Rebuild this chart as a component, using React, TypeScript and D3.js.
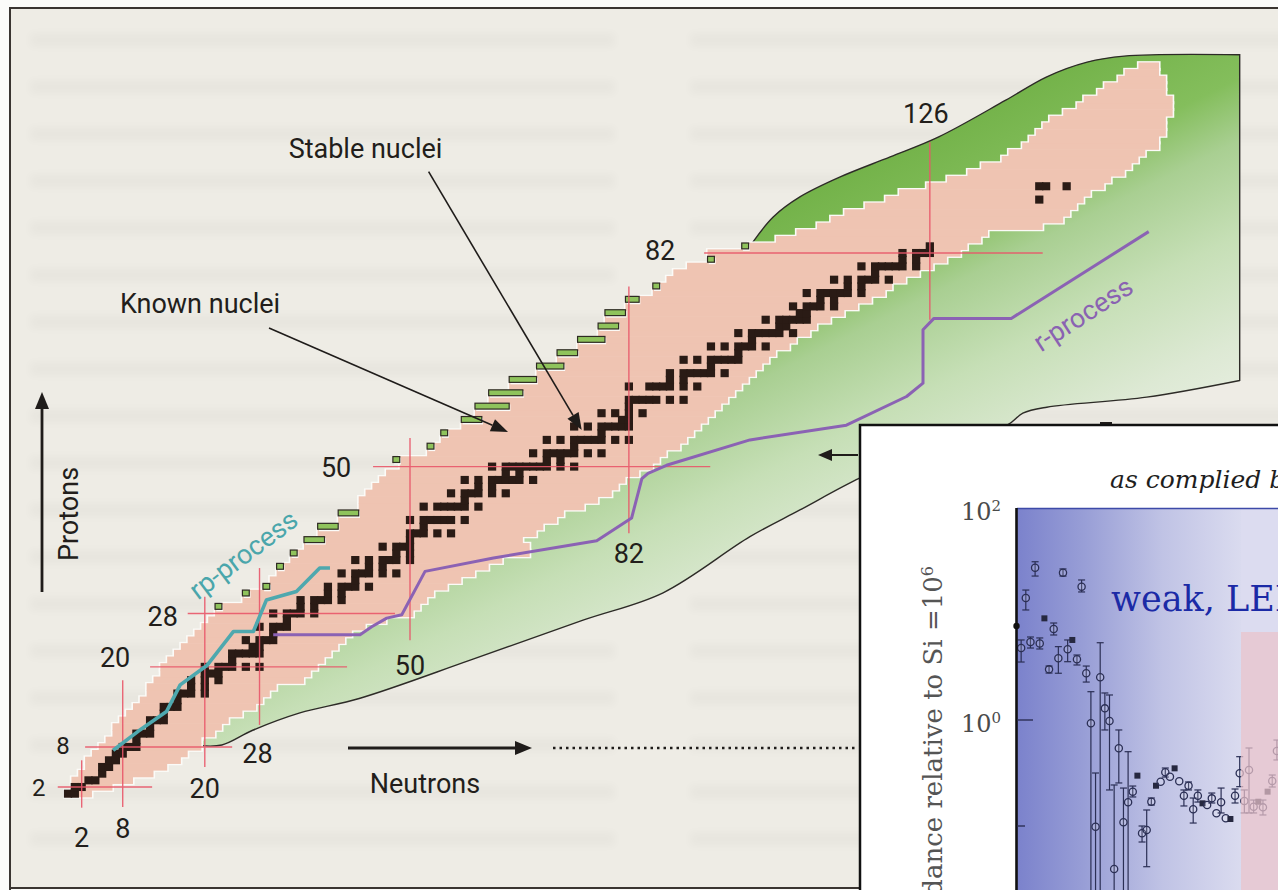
import React, { useEffect, useRef } from 'react'
import * as d3 from 'd3'

// known nuclei, one row per proton number: [Z, lightest N, heaviest N]
const knownNuclei: [number, number, number][] = [
  [1, 0, 3], [2, 1, 6], [3, 1, 9], [4, 2, 12], [5, 3, 14], [6, 3, 16], [7, 4, 17], [8, 5, 19],
  [9, 6, 19], [10, 7, 21], [11, 7, 22], [12, 8, 23], [13, 9, 25], [14, 10, 27], [15, 11, 28],
  [16, 12, 29], [17, 12, 30], [18, 13, 34], [19, 14, 35], [20, 14, 36], [21, 15, 37], [22, 16, 38],
  [23, 17, 39], [24, 18, 40], [25, 19, 41], [26, 20, 43], [27, 21, 46], [28, 22, 50], [29, 23, 51],
  [30, 26, 52], [31, 27, 53], [32, 30, 55], [33, 30, 57], [34, 31, 59], [35, 32, 61], [36, 33, 63],
  [37, 34, 67], [38, 35, 67], [39, 38, 66], [40, 37, 68], [41, 40, 69], [42, 40, 71], [43, 43, 72],
  [44, 43, 75], [45, 43, 77], [46, 44, 79], [47, 45, 80], [48, 46, 81], [49, 47, 83], [50, 49, 85],
  [51, 49, 86], [52, 53, 87], [53, 54, 89], [54, 55, 90], [55, 56, 91], [56, 58, 92], [57, 61, 93],
  [58, 60, 94], [59, 65, 95], [60, 62, 96], [61, 67, 97], [62, 65, 98], [63, 69, 99], [64, 69, 100],
  [65, 73, 101], [66, 72, 102], [67, 75, 103], [68, 75, 105], [69, 79, 106], [70, 78, 108],
  [71, 81, 109], [72, 79, 111], [73, 82, 113], [74, 82, 115], [75, 84, 117], [76, 86, 119],
  [77, 87, 120], [78, 88, 122], [79, 89, 124], [80, 91, 126], [81, 95, 128], [82, 94, 130],
  [83, 100, 131], [84, 104, 133], [85, 107, 134], [86, 110, 142], [87, 112, 145], [88, 114, 146],
  [89, 117, 147], [90, 120, 148], [91, 122, 149], [92, 126, 151], [93, 129, 152], [94, 132, 154],
  [95, 134, 155], [96, 137, 156], [97, 138, 157], [98, 140, 159], [99, 141, 159], [100, 142, 160],
  [101, 143, 160], [102, 144, 160], [103, 146, 161], [104, 148, 161], [105, 149, 161],
  [106, 151, 160], [107, 152, 160], [108, 154, 160], [109, 155, 159], [110, 157, 159]
]

// stable nuclei: [Z, neutron numbers]
const stableNuclei: [number, number[]][] = [
  [1, [0, 1]], [2, [1, 2]], [3, [3, 4]], [4, [5]], [5, [5, 6]], [6, [6, 7]], [7, [7, 8]],
  [8, [8, 9, 10]], [9, [10]], [10, [10, 11, 12]], [11, [12]], [12, [12, 13, 14]], [13, [14]],
  [14, [14, 15, 16]], [15, [16]], [16, [16, 17, 18, 20]], [17, [18, 20]], [18, [18, 20, 22]],
  [19, [20, 21, 22]], [20, [20, 22, 23, 24, 26, 28]], [21, [24]], [22, [24, 25, 26, 27, 28]],
  [23, [27, 28]], [24, [26, 28, 29, 30]], [25, [30]], [26, [28, 30, 31, 32]], [27, [32]],
  [28, [30, 32, 33, 34, 36]], [29, [34, 36]], [30, [34, 36, 37, 38, 40]], [31, [38, 40]],
  [32, [38, 40, 41, 42, 44]], [33, [42]], [34, [40, 42, 43, 44, 46, 48]], [35, [44, 46]],
  [36, [42, 44, 46, 47, 48, 50]], [37, [48, 50]], [38, [46, 48, 49, 50]], [39, [50]],
  [40, [50, 51, 52, 54, 56]], [41, [52]], [42, [50, 52, 53, 54, 55, 56, 58]],
  [44, [52, 54, 55, 56, 57, 58, 60]], [45, [58]], [46, [56, 58, 59, 60, 62, 64]], [47, [60, 62]],
  [48, [58, 60, 62, 63, 64, 65, 66, 68]], [49, [64, 66]],
  [50, [62, 64, 65, 66, 67, 68, 69, 70, 72, 74]], [51, [70, 72]],
  [52, [68, 70, 71, 72, 73, 74, 76, 78]], [53, [74]], [54, [70, 72, 74, 75, 76, 77, 78, 80, 82]],
  [55, [78]], [56, [74, 76, 78, 79, 80, 81, 82]], [57, [81, 82]], [58, [78, 80, 82, 84]],
  [59, [82]], [60, [82, 83, 84, 85, 86, 88, 90]], [62, [82, 85, 86, 87, 88, 90, 92]],
  [63, [88, 90]], [64, [88, 90, 91, 92, 93, 94, 96]], [65, [94]],
  [66, [90, 92, 94, 95, 96, 97, 98]], [67, [98]], [68, [94, 96, 98, 99, 100, 102]], [69, [100]],
  [70, [98, 100, 101, 102, 103, 104, 106]], [71, [104, 105]], [72, [102, 104, 105, 106, 107, 108]],
  [73, [107, 108]], [74, [106, 108, 109, 110, 112]], [75, [110, 112]],
  [76, [108, 110, 111, 112, 113, 114, 116]], [77, [114, 116]], [78, [112, 114, 116, 117, 118, 120]],
  [79, [118]], [80, [116, 118, 119, 120, 121, 122, 124]], [81, [122, 124]],
  [82, [122, 124, 125, 126]], [83, [126]], [90, [142]], [92, [142, 143, 146]]
]

// predicted proton-rich nuclei beyond the known ones: [Z, first N, last N]
const protonSideBars: [number, number, number][] = [
  [29, 22, 22], [31, 26, 26], [32, 29, 29], [35, 31, 31], [37, 33, 33], [39, 35, 37], [41, 37, 39],
  [43, 40, 42], [51, 48, 48], [53, 53, 53], [55, 55, 55], [57, 58, 60], [59, 60, 64], [61, 62, 66],
  [63, 65, 68], [65, 69, 72], [67, 72, 74], [69, 75, 78], [71, 78, 80], [73, 79, 81], [75, 82, 83],
  [77, 86, 86], [81, 94, 94], [83, 99, 99]
]

// magic numbers: proton lines span N, neutron lines span Z
const magicZ = [
  { z: 2, from: -1.5, to: 12.3 }, { z: 8, from: 2.5, to: 24 }, { z: 20, from: 12, to: 40.8 },
  { z: 28, from: 17.5, to: 47.8 }, { z: 50, from: 44.6, to: 93.9 }, { z: 82, from: 93, to: 142.5 }
]
const magicN = [
  { n: 2, from: -1.1, to: 6 }, { n: 8, from: -1, to: 18 }, { n: 20, from: 5, to: 30.5 },
  { n: 28, from: 11.3, to: 34.8 }, { n: 50, from: 24, to: 54.3 }, { n: 82, from: 40, to: 77 },
  { n: 126, from: 72, to: 98.6 }
]

// limits of bound nuclei, [N, Z]
const neutronDripLine: [number, number][] = [
  [19.3, 8.2], [22.5, 8.3], [27.0, 10.5], [33.9, 13.1], [42.7, 15.3], [58.8, 21.0], [75.3, 27.0],
  [87.0, 31.1], [99.7, 39.5], [107.0, 43.5], [115.8, 48.3], [126.0, 52.8], [137.3, 56.2],
  [139.6, 58.0], [143.1, 58.9], [157.7, 60.4], [171.3, 62.9]
]
const upperDripLine: [number, number][] = [
  [171.3, 111.7], [154.4, 111.5], [149.0, 110.6], [143.1, 108.4], [137.1, 104.9],
  [127.3, 99.4], [120.2, 96.4], [112.9, 93.4], [107.0, 90.4], [103.1, 87.4], [100.1, 83.6]
]
const valleyInside: [number, number][] = [
  [101.5, 83.0], [85, 62], [65, 47], [45, 32], [25, 16], [19.3, 8.2]
]

// process paths, [N, Z]
const rpProcess: [number, number][] = [
  [6.6, 7.5], [10.2, 10.3], [14.4, 13.3], [16.4, 17.3], [20.3, 20.2], [24.2, 25.3], [27.1, 25.3],
  [29.0, 30.0], [33.4, 31.3], [36.8, 34.8], [38.3, 34.8]
]
const rProcess: [number, number][] = [
  [30.0, 24.8], [42.7, 24.8], [44.4, 26.0], [46.6, 27.3], [48.8, 27.8], [52.2, 34.3], [62.2, 36.3],
  [77.3, 38.9], [82.4, 42.3], [83.9, 48.2], [84.8, 49.0], [87.5, 50.2], [99.7, 54.0],
  [113.8, 56.2], [122.6, 60.5], [125.0, 62.5], [125.0, 70.5], [126.6, 72.2], [137.9, 72.2],
  [158.0, 85.2]
]

// inset: abundances (log10, relative to Si = 1e6)
const abundX = [
  0, 1, 2, 3, 4, 5, 6, 7, 8, 9, 10, 11, 12, 13, 14, 15, 16, 17, 18, 19, 20, 21, 22, 23, 24, 25, 26, 27,
  28, 29, 30, 31, 32, 33, 34, 35, 36, 37, 38, 39, 40, 41, 42, 43, 44, 45, 46, 47, 48, 49, 50, 51, 52,
  53, 54, 55, 56
]
const abundLog = [
  0.887, 0.679, 1.151, 0.736, 1.437, 0.722, 0.959, 0.478, 0.858, 0.582, 1.39, 0.667, 0.755, 0.573,
  1.258, 0.441, -0.031, -1.007, 0.403, 0.11, -0.009, -1.406, -0.267, -0.965, -0.776, -0.676,
  -0.525, -1.069, -1.038, -0.771, -0.62, -0.582, -0.493, -0.535, -0.456, -0.578, -0.714, -0.62,
  -0.842, -0.714, -0.786, -0.802, -0.739, -0.88, -0.776, -0.927, -0.934, -0.714, -0.503, -0.764,
  -0.472, -0.818, -0.771, -0.824, -0.676, -0.575, -0.292
]
const abundHigh: (number | null)[] = [
  null, 0.755, 1.226, 0.783, 1.493, 0.774, null, 0.509, 0.915, 0.692, 1.425, 0.755, null, 0.613,
  1.321, 0.509, 0.267, -0.5, 0.729, 0.255, 0.236, -0.613, -0.094, -0.642, -0.299, -0.623, null,
  -1.0, -0.849, -0.736, null, null, -0.453, null, null, null, -0.66, -0.585, -0.736, -0.66, null,
  null, -0.689, null, -0.642, null, null, -0.651, -0.346, -0.66, -0.264, -0.755, null, -0.755,
  null, -0.519, -0.189
]
const abundLow: (number | null)[] = [
  null, 0.547, 1.038, 0.679, 1.358, 0.67, null, 0.443, 0.802, 0.441, 1.358, 0.55, null, 0.519,
  1.208, 0.358, -1.7, -1.7, -1.7, -0.094, -0.66, -1.7, -0.594, -1.7, -1.7, -0.726, null, -1.151,
  -1.384, -0.802, null, null, -0.538, null, null, null, -0.811, -0.66, -0.972, -0.774, null, null,
  -0.783, null, -0.877, null, null, -0.783, -0.629, -0.877, -0.877, -0.877, null, -0.896, null,
  -0.632, -0.377
]
const abundMark = [
  'd', 'o', 'o', 'o', 'o', 'o', 's', 'o', 'o', 'o', 'o', 'o', 's', 'o', 'o', 'o', 'o', 'o', 'o',
  'o', 'o', 'o', 'o', 'o', 'o', 'o', 's', 'o', 'o', 'o', 's', 'o', 'o', 'o', 's', 'o', 'o', 'o',
  'o', 'o', 's', 'o', 'o', 'o', 'o', 'o', 's', 'o', 'o', 'o', 'o', 'o', 's', 'o', 's', 'o', 'o'
]

const SANS = 'Roboto, "DejaVu Sans", sans-serif'
const SERIF = '"DejaVu Serif", "Liberation Serif", serif'

const App: React.FC = () => {
  const svgRef = useRef<SVGSVGElement>(null)

  useEffect(() => {
    document.body.style.margin = '0'
    if (!svgRef.current) return
    const svg = d3.select(svgRef.current)
    svg.selectAll('*').remove()

    const W = 1278
    const H = 890

    // nuclide chart scales
    const xN = d3.scaleLinear().domain([0, 160]).range([68, 68 + 6.84 * 160])
    const yZ = d3.scaleLinear().domain([0, 110]).range([800.35, 800.35 - 6.675 * 110])
    const cw = xN(1) - xN(0)
    const ch = yZ(0) - yZ(1)

    const defs = svg.append('defs')
    const gg = defs.append('linearGradient').attr('id', 'greenGrad')
      .attr('gradientUnits', 'userSpaceOnUse')
      .attr('x1', 800).attr('y1', 140).attr('x2', 1010).attr('y2', 560)
    ;[[0, '#6aac3f'], [0.3, '#84be5c'], [0.42, '#a9cf92'], [0.6, '#c6dfb6'], [0.8, '#dde9d4'], [1, '#edf1e8']]
      .forEach(([o, c]) => gg.append('stop').attr('offset', o as number).attr('stop-color', c as string))
    const bg = defs.append('linearGradient').attr('id', 'blueGrad')
      .attr('gradientUnits', 'userSpaceOnUse')
      .attr('x1', 1017).attr('y1', 0).attr('x2', 1241).attr('y2', 0)
    ;[[0, '#7b82cc'], [0.3, '#989ed6'], [0.65, '#c0c3e5'], [1, '#dadbef']]
      .forEach(([o, c]) => bg.append('stop').attr('offset', o as number).attr('stop-color', c as string))
    defs.append('filter').attr('id', 'blur')
      .append('feGaussianBlur').attr('stdDeviation', 4)

    // page
    svg.append('rect').attr('width', W).attr('height', H).attr('fill', '#fbfbf9')
    svg.append('rect').attr('x', 10).attr('y', 8).attr('width', W).attr('height', 880).attr('fill', '#eeece5')

    // faint show-through of the printed text
    const ghost = svg.append('g').attr('filter', 'url(#blur)').attr('opacity', 0.022)
    d3.range(40, 880, 47).forEach(y => {
      ghost.append('rect').attr('x', 30).attr('y', y - 7).attr('width', 585).attr('height', 14).attr('fill', '#000')
      ghost.append('rect').attr('x', 690).attr('y', y - 7).attr('width', 600).attr('height', 14).attr('fill', '#000')
    })

    svg.append('path')
      .attr('d', `M10,${H} L10,8 L${W},8`)
      .attr('fill', 'none').attr('stroke', '#3a3531').attr('stroke-width', 2)
    svg.append('line').attr('x1', 10).attr('x2', W).attr('y1', 888).attr('y2', 888)
      .attr('stroke', '#3a3531').attr('stroke-width', 2)

    const chart = svg.append('g')

    // bound-nuclei region
    const curve = d3.line<[number, number]>().x(d => xN(d[0])).y(d => yZ(d[1])).curve(d3.curveCatmullRom.alpha(0.5))
    const straight = d3.line<[number, number]>().x(d => xN(d[0])).y(d => yZ(d[1]))
    const lowerD = curve(neutronDripLine) as string
    const upperD = (curve(upperDripLine) as string).replace(/^M/, 'L')
    const innerD = (straight(valleyInside) as string).replace(/^M/, 'L')
    chart.append('path').attr('d', lowerD + upperD + innerD + 'Z').attr('fill', 'url(#greenGrad)')
    chart.append('path').attr('d', lowerD + upperD)
      .attr('fill', 'none').attr('stroke', '#2d2b27').attr('stroke-width', 1.4)

    // known nuclei: white rim then pink fill
    chart.append('g').selectAll('rect').data(knownNuclei).join('rect')
      .attr('x', d => xN(d[1] - 0.5)).attr('y', d => yZ(d[0] + 0.5))
      .attr('width', d => xN(d[2] + 0.5) - xN(d[1] - 0.5)).attr('height', ch)
      .attr('fill', '#fff').attr('stroke', '#fbfbf8').attr('stroke-width', 3.2)
    chart.append('g').selectAll('rect').data(knownNuclei).join('rect')
      .attr('x', d => xN(d[1] - 0.5)).attr('y', d => yZ(d[0] + 0.5) - 0.3)
      .attr('width', d => xN(d[2] + 0.5) - xN(d[1] - 0.5)).attr('height', ch + 0.6)
      .attr('fill', '#efc4b2')

    // predicted proton-rich bars
    const bars = chart.append('g')
    bars.selectAll('rect.halo').data(protonSideBars).join('rect').attr('class', 'halo')
      .attr('x', d => xN(d[1] - 0.5) + 1.2).attr('y', d => yZ(d[0] + 0.5) + 1.2)
      .attr('width', d => xN(d[2] + 0.5) - xN(d[1] - 0.5)).attr('height', ch)
      .attr('fill', '#fbfbf8')
    bars.selectAll('rect.bar').data(protonSideBars).join('rect').attr('class', 'bar')
      .attr('x', d => xN(d[1] - 0.5)).attr('y', d => yZ(d[0] + 0.5))
      .attr('width', d => xN(d[2] + 0.5) - xN(d[1] - 0.5)).attr('height', ch - 0.8)
      .attr('fill', '#8fc35c').attr('stroke', '#2e2a22').attr('stroke-width', 1.2)

    // stable nuclei
    const stableCells = stableNuclei.flatMap(([z, ns]) => ns.map(n => ({ z, n })))
    chart.append('g').selectAll('rect').data(stableCells).join('rect')
      .attr('x', d => xN(d.n - 0.5) - 0.7).attr('y', d => yZ(d.z + 0.5) - 0.7)
      .attr('width', cw + 1.4).attr('height', ch + 1.4)
      .attr('fill', '#2a1b15')

    // magic numbers
    const magic = chart.append('g').attr('stroke', '#e9576a').attr('stroke-width', 1.4).attr('opacity', 0.9)
    magicZ.forEach(m => {
      magic.append('line').attr('x1', xN(m.from)).attr('x2', xN(m.to)).attr('y1', yZ(m.z)).attr('y2', yZ(m.z))
    })
    magicN.forEach(m => {
      magic.append('line').attr('x1', xN(m.n)).attr('x2', xN(m.n)).attr('y1', yZ(m.from)).attr('y2', yZ(m.to))
    })

    // process paths
    chart.append('path').attr('d', straight(rProcess) as string)
      .attr('fill', 'none').attr('stroke', '#8b62b4').attr('stroke-width', 3).attr('stroke-linejoin', 'round')
    chart.append('path').attr('d', straight(rpProcess) as string)
      .attr('fill', 'none').attr('stroke', '#4ea8ae').attr('stroke-width', 3.6).attr('stroke-linejoin', 'round')

    // magic number labels
    const zLab: Record<number, [number, number, number]> = {
      2: [-19, 9, 24], 8: [-22, 7, 24], 20: [-35, 0, 27], 28: [-25, 13, 27], 50: [-37, 10, 27], 82: [-44, 7, 27]
    }
    const nLab: Record<number, [number, number]> = {
      2: [0, 39], 8: [0, 31], 20: [0, 31], 28: [-2, 38], 50: [0, 35], 82: [0, 30], 126: [-4, -19]
    }
    const labels = chart.append('g').attr('font-family', SANS).attr('fill', '#221e1b').attr('text-anchor', 'middle')
    magicZ.forEach(m => {
      const [dx, dy, fs] = zLab[m.z]
      labels.append('text').attr('x', xN(m.from) + dx).attr('y', yZ(m.z) + dy)
        .attr('font-size', fs).text(m.z)
    })
    magicN.forEach(m => {
      const [dx, dy] = nLab[m.n]
      const base = m.n === 126 ? yZ(m.to) : yZ(m.from)
      labels.append('text').attr('x', xN(m.n) + dx).attr('y', base + dy)
        .attr('font-size', 27).text(m.n)
    })

    // annotations
    const arrow = (x1: number, y1: number, x2: number, y2: number, w: number, len: number, half: number) => {
      const a = Math.atan2(y2 - y1, x2 - x1)
      const bx = x2 - len * Math.cos(a)
      const by = y2 - len * Math.sin(a)
      chart.append('line').attr('x1', x1).attr('y1', y1).attr('x2', bx).attr('y2', by)
        .attr('stroke', '#1f1c1a').attr('stroke-width', w)
      const px = -Math.sin(a) * half
      const py = Math.cos(a) * half
      chart.append('path')
        .attr('d', `M${x2},${y2}L${bx + px},${by + py}L${bx - px},${by - py}Z`)
        .attr('fill', '#1f1c1a')
    }
    arrow(428.6, 171.7, 581.7, 430, 1.6, 17, 6.5)
    arrow(269, 328, 508, 432, 1.6, 17, 6.5)
    arrow(348, 748, 532, 748, 2.8, 17, 7)
    arrow(42, 592, 42, 392, 2.8, 17, 7)
    arrow(858, 455, 818, 455, 2, 14, 6)
    chart.append('line').attr('x1', 553).attr('x2', 858).attr('y1', 748).attr('y2', 748)
      .attr('stroke', '#1f1c1a').attr('stroke-width', 2.6).attr('stroke-dasharray', '2.5 4')
    chart.append('path').attr('d', 'M1100,423L1112,423M1106,423L1106,426')
      .attr('stroke', '#1f1c1a').attr('stroke-width', 2)

    const txt = chart.append('g').attr('font-family', SANS).attr('font-size', 27).attr('fill', '#221e1b')
    txt.append('text').attr('x', 365.5).attr('y', 158).attr('text-anchor', 'middle').text('Stable nuclei')
    txt.append('text').attr('x', 200).attr('y', 313).attr('text-anchor', 'middle').text('Known nuclei')
    txt.append('text').attr('x', 425).attr('y', 793).attr('text-anchor', 'middle').text('Neutrons')
    txt.append('text').attr('transform', 'translate(78,514) rotate(-90)').attr('text-anchor', 'middle').text('Protons')
    txt.append('text').attr('transform', 'translate(249,562) rotate(-37)').attr('text-anchor', 'middle')
      .attr('fill', '#4aa6ab').text('rp-process')
    txt.append('text').attr('transform', 'translate(1088,322) rotate(-33)').attr('text-anchor', 'middle')
      .attr('fill', '#8a62b2').text('r-process')

    // ---- inset abundance plot ----
    const inset = svg.append('g')
    inset.append('rect').attr('x', 860).attr('y', 425).attr('width', W - 860).attr('height', H - 425).attr('fill', '#fff')
    inset.append('path').attr('d', `M860,${H} L860,425 L${W},425`)
      .attr('fill', 'none').attr('stroke', '#111').attr('stroke-width', 2.5)

    inset.append('text').attr('x', 1110).attr('y', 488)
      .attr('font-family', SERIF).attr('font-style', 'italic').attr('font-size', 25).attr('fill', '#1e1e1e')
      .text('as complied by')

    const xA = d3.scaleLinear().domain([0, 56]).range([1016.5, 1276.9])
    const yA = d3.scaleLog().domain([1e-2, 1e2]).range([932, 508])
    const top = yA(1e2)

    inset.append('rect').attr('x', 1017).attr('y', top).attr('width', W - 1017).attr('height', H - top)
      .attr('fill', 'url(#blueGrad)')
    inset.append('rect').attr('x', 1241).attr('y', top).attr('width', W - 1241).attr('height', H - top)
      .attr('fill', '#dcdcf0')
    inset.append('line').attr('x1', 1017).attr('x2', W).attr('y1', top + 0.5).attr('y2', top + 0.5)
      .attr('stroke', '#3d4aa8').attr('stroke-width', 1.6)

    const pts = inset.append('g').attr('stroke', '#2b2f55').attr('fill', 'none')
    abundX.forEach((x, i) => {
      const cx = xA(x)
      const cy = yA(Math.pow(10, abundLog[i]))
      const hi = abundHigh[i]
      const lo = abundLow[i]
      if (hi !== null && lo !== null) {
        const y1 = yA(Math.pow(10, hi))
        const y2 = yA(Math.pow(10, lo))
        pts.append('line').attr('x1', cx).attr('x2', cx).attr('y1', y1).attr('y2', y2).attr('stroke-width', 1.2)
        pts.append('line').attr('x1', cx - 3.5).attr('x2', cx + 3.5).attr('y1', y1).attr('y2', y1).attr('stroke-width', 1.2)
        pts.append('line').attr('x1', cx - 3.5).attr('x2', cx + 3.5).attr('y1', y2).attr('y2', y2).attr('stroke-width', 1.2)
      }
      if (abundMark[i] === 'o') {
        pts.append('circle').attr('cx', cx).attr('cy', cy).attr('r', 3.6)
          .attr('stroke-width', 1.3).attr('fill', 'rgba(255,255,255,0.15)')
      } else if (abundMark[i] === 's') {
        pts.append('rect').attr('x', cx - 3).attr('y', cy - 3).attr('width', 6).attr('height', 6)
          .attr('fill', '#262840').attr('stroke', 'none')
      } else {
        pts.append('circle').attr('cx', cx).attr('cy', cy).attr('r', 3.2).attr('fill', '#111').attr('stroke', 'none')
      }
    })

    inset.append('rect').attr('x', 1241).attr('y', 632).attr('width', W - 1241).attr('height', H - 632)
      .attr('fill', '#eac3cb').attr('opacity', 0.72)

    inset.append('text').attr('x', 1111).attr('y', 611)
      .attr('font-family', SERIF).attr('font-size', 35).attr('fill', '#1b2aa6')
      .text('weak, LEPP')

    inset.append('line').attr('x1', 1016.5).attr('x2', 1016.5).attr('y1', top).attr('y2', H)
      .attr('stroke', '#111').attr('stroke-width', 2.6)
    inset.append('line').attr('x1', 1017).attr('x2', 1033).attr('y1', yA(1)).attr('y2', yA(1))
      .attr('stroke', '#2b2f55').attr('stroke-width', 1.4)
    inset.append('line').attr('x1', 1017).attr('x2', 1025).attr('y1', yA(0.1)).attr('y2', yA(0.1))
      .attr('stroke', '#2b2f55').attr('stroke-width', 1.4)

    const tickLabel = (v: number, exp: string) => {
      const t = inset.append('text').attr('x', 1001).attr('y', yA(v) + 12).attr('text-anchor', 'end')
        .attr('font-family', SERIF).attr('font-size', 24).attr('fill', '#4a4a4a')
      t.append('tspan').text('10')
      t.append('tspan').attr('dy', -9).attr('font-size', 15).text(exp)
    }
    tickLabel(100, '2')
    tickLabel(1, '0')

    const yl = inset.append('text').attr('transform', 'translate(942,566) rotate(-90)')
      .attr('text-anchor', 'end').attr('font-family', SERIF).attr('font-size', 26).attr('fill', '#555')
    yl.append('tspan').text('abundance relative to Si =10')
    yl.append('tspan').attr('dy', -9).attr('font-size', 16).text('6')
  }, [])

  return <svg ref={svgRef} width={1278} height={890} style={{ display: 'block' }} />
}

export default App
